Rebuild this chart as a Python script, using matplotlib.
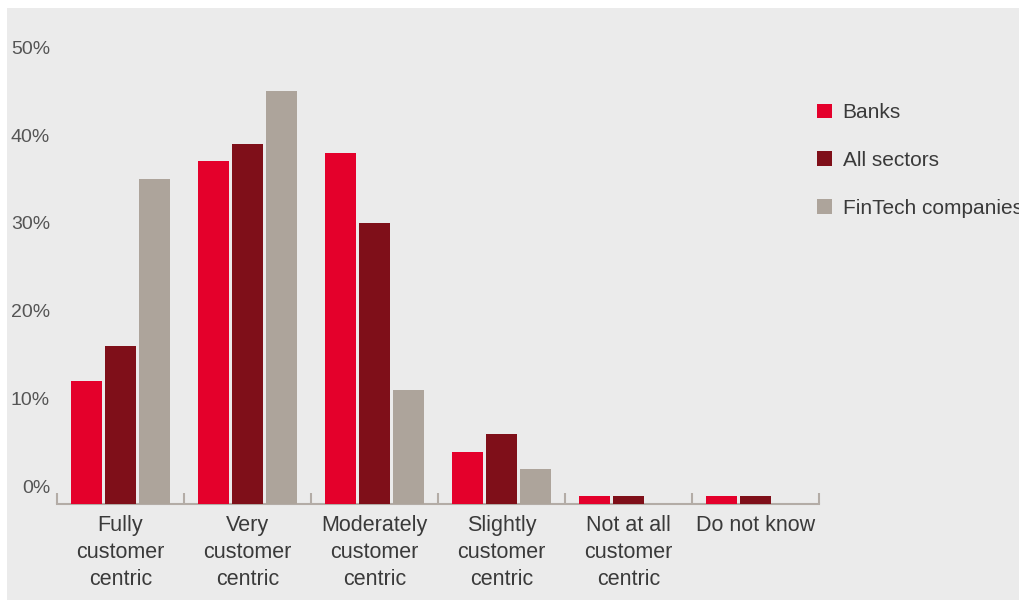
import numpy as np
import matplotlib
matplotlib.use("Agg")
import matplotlib.pyplot as plt
from matplotlib.patches import Rectangle

plt.rcParams["font.family"] = ["Liberation Sans", "DejaVu Sans"]

# ---------------------------------------------------------------------------
# Dati
# ---------------------------------------------------------------------------
CATEGORIES = ["Fully\ncustomer\ncentric", "Very\ncustomer\ncentric",
              "Moderately\ncustomer\ncentric", "Slightly\ncustomer\ncentric",
              "Not at all\ncustomer\ncentric", "Do not know"]
SERIES = ["Banks", "All sectors", "FinTech companies"]
BANKS = [12, 37, 38, 4, -1, -1]
ALL_SECTORS = [16, 39, 30, 6, -1, -1]
FINTECH = [35, 45, 11, 2, None, None]
Y_TICKS = [0, 10, 20, 30, 40, 50]
Y_LABELS = ["0%", "10%", "20%", "30%", "40%", "50%"]

COLORS = ["#e4002b", "#7f0f19", "#ada49b"]
BG = "#ebebeb"
AXIS = "#b3aca6"
BASE = -2  # la linea di base sta sotto lo 0%

W, H = 1019, 600
fig = plt.figure(figsize=(W / 100, H / 100), dpi=100, facecolor="white")
fig.patches.append(Rectangle((7 / W, 0), 1, (H - 8) / H, transform=fig.transFigure,
                             facecolor=BG, edgecolor="none", zorder=-10))

ax = fig.add_axes([57 / W, (H - 504.3) / H, 762 / W, (504.3 - 29.6) / H])
ax.set_facecolor("none")

x = np.arange(len(CATEGORIES))
step = 34 / 127
width = 31 / 127
for i, (vals, name) in enumerate(zip([BANKS, ALL_SECTORS, FINTECH], SERIES)):
    xs = [xx for xx, v in zip(x, vals) if v is not None]
    hs = [v - BASE for v in vals if v is not None]
    ax.bar(np.array(xs) + (i - 1) * step, hs, width, bottom=BASE,
           color=COLORS[i], label=name, zorder=3)

ax.set_xlim(-0.5, len(CATEGORIES) - 0.5)
ax.set_ylim(BASE, 52)

for s in ["top", "right", "left"]:
    ax.spines[s].set_visible(False)
ax.spines["bottom"].set_color(AXIS)
ax.spines["bottom"].set_linewidth(1.5)

# tacche ai confini delle categorie
ax.set_xticks(np.arange(-0.5, len(CATEGORIES)), minor=False)
ax.set_xticklabels([])
ax.tick_params(axis="x", which="major", direction="in", length=8, width=1.5, color=AXIS)
ax.set_xticks(x, minor=True)
ax.set_xticklabels(CATEGORIES, minor=True, fontsize=15.5, color="#3a3a3a", linespacing=1.35,
                   va="top")
ax.tick_params(axis="x", which="minor", length=0, pad=8)

ax.set_yticks(Y_TICKS)
ax.set_yticklabels(Y_LABELS, fontsize=14, color="#555555")
ax.tick_params(axis="y", length=0, pad=5)

# legenda tagliata dal bordo destro come nell'originale
leg = ax.legend(loc="upper left", bbox_to_anchor=(809 / W, 1 - 95 / H),
                bbox_transform=fig.transFigure, frameon=False, fontsize=15,
                handlelength=0.72, handleheight=0.72, handletextpad=0.5,
                labelspacing=1.38, borderaxespad=0)
for t in leg.get_texts():
    t.set_color("#3a3a3a")

fig.savefig("out.png", dpi=100, facecolor="white")
